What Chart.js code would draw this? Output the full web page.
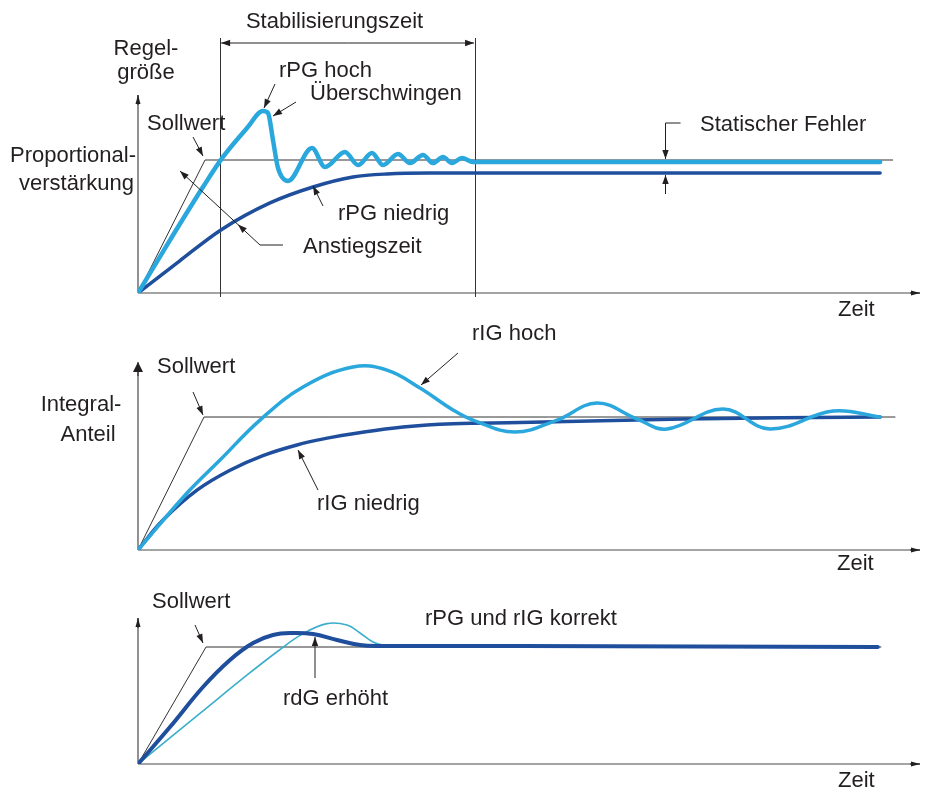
<!DOCTYPE html>
<html lang="de">
<head>
<meta charset="UTF-8" />
<title>Regelverhalten</title>
<script src="https://cdn.jsdelivr.net/npm/chart.js@4.4.0/dist/chart.umd.min.js"></script>
<style>
  body { margin: 0; background: #fff; }
  #wrap { position: relative; width: 925px; height: 794px; }
  canvas { position: absolute; left: 0; }
</style>
</head>
<body>
<div id="wrap">
  <canvas id="c1" width="925" height="320" style="top:0px"></canvas>
  <canvas id="c2" width="925" height="260" style="top:320px"></canvas>
  <canvas id="c3" width="925" height="214" style="top:580px"></canvas>
</div>
<script>
// Oben: Proportionalverstärkung (Sollwert = 1)
var p1Zeit   = [0, 4.09, 8.31, 10.87, 13.94, 15.98, 16.62, 17.26, 17.9, 19.18, 22.25, 23.91, 26.47, 28.13, 29.92, 31.33, 33.25, 34.78, 36.45, 37.72, 39.0, 40.15, 41.43, 42.84, 94.9];
var p1Hoch   = [0, 0.398, 0.797, 1.023, 1.24, 1.368, 1.353, 1.15, 0.94, 0.842, 1.09, 0.947, 1.06, 0.962, 1.053, 0.962, 1.045, 0.977, 1.038, 0.977, 1.023, 0.977, 1.015, 0.985, 0.985];
var p1ZeitN  = [0, 5.3, 10.6, 16.88, 22.38, 27.49, 31.84, 37.34, 94.9];
var p1Niedrig = [0, 0.24, 0.474, 0.677, 0.797, 0.872, 0.895, 0.902, 0.902];
var p1SollZeit = [0, 8.57, 96.5];
var stabZeit = [10.5, 43.1];
var fehlerZeit = 67.4;

// Mitte: Integral-Anteil
var p2ZeitH = [0, 6.27, 10.49, 15.6, 21.1, 27.49, 31.84, 36.06, 40.28, 42.84, 48.2, 53.58, 58.7, 63.8, 67.65, 74.8, 80.8, 88.9, 94.9];
var p2Hoch  = [0, 0.429, 0.677, 0.977, 1.226, 1.376, 1.353, 1.218, 1.053, 0.977, 0.887, 0.977, 1.105, 0.985, 0.91, 1.06, 0.91, 1.045, 1.0];
var p2ZeitN = [0, 3.2, 7.54, 11.76, 15.98, 20.33, 24.55, 27.49, 33.89, 40.28, 48.85, 69.7, 94.9];
var p2Niedrig = [0, 0.225, 0.45, 0.6, 0.71, 0.79, 0.845, 0.875, 0.925, 0.95, 0.958, 0.985, 1.0];
var p2SollZeit = [0, 8.44, 96.8];

// Unten: rPG und rIG korrekt
var p3ZeitD = [0, 4.09, 8.31, 11.76, 14.71, 17.26, 19.82, 22.38, 25.45, 28.39, 30.95, 48.85, 94.6];
var p3Erhoeht = [0, 0.316, 0.658, 0.889, 1.034, 1.103, 1.12, 1.111, 1.06, 1.017, 1.009, 1.009, 1.0];
var p3ZeitT = [0, 8, 14, 18, 21, 24.17, 26.73, 28.39, 30.05, 31.33, 33.5, 48.85, 94.6];
var p3Normal = [0, 0.436, 0.763, 0.97, 1.11, 1.2, 1.188, 1.12, 1.043, 1.017, 1.009, 1.009, 1.0];
var p3SollZeit = [0, 8.7, 95];

var hell = '#2aa7dc', dunkel = '#1f4f9c', tuerkis = '#3aaecb', tinte = '#231f20';

function punkte(xs, ys) {
  return xs.map(function (x, i) { return { x: x, y: ys[i] }; });
}

function schreibe(ctx, s, x, y, align) {
  ctx.save();
  ctx.font = '22px "Liberation Sans", Arial, sans-serif';
  ctx.fillStyle = tinte;
  ctx.textAlign = align || 'left';
  ctx.fillText(s, x, y);
  ctx.restore();
}

function pfeil(ctx, x1, y1, x2, y2, spitze, l, w) {
  l = l || 9; w = w || 3.2;
  ctx.save();
  ctx.strokeStyle = tinte; ctx.fillStyle = tinte; ctx.lineWidth = 1;
  ctx.beginPath(); ctx.moveTo(x1, y1); ctx.lineTo(x2, y2); ctx.stroke();
  if (spitze !== false) {
    var a = Math.atan2(y2 - y1, x2 - x1);
    ctx.beginPath();
    ctx.moveTo(x2, y2);
    ctx.lineTo(x2 - l * Math.cos(a) + w * Math.sin(a), y2 - l * Math.sin(a) - w * Math.cos(a));
    ctx.lineTo(x2 - l * Math.cos(a) - w * Math.sin(a), y2 - l * Math.sin(a) + w * Math.cos(a));
    ctx.closePath(); ctx.fill();
  }
  ctx.restore();
}

function achsen(chart, yTop, dreieck) {
  var ctx = chart.ctx, a = chart.chartArea;
  ctx.save();
  ctx.strokeStyle = '#4a4a4a'; ctx.lineWidth = 1.2;
  ctx.beginPath();
  ctx.moveTo(a.left, a.bottom); ctx.lineTo(a.right, a.bottom);
  ctx.moveTo(a.left, a.bottom); ctx.lineTo(a.left, yTop);
  ctx.stroke();
  ctx.restore();
  pfeil(ctx, a.right - 10, a.bottom, a.right, a.bottom, true, 9, 2.5);
  if (dreieck) pfeil(ctx, a.left, yTop + 12, a.left, yTop - 2, true, 10, 5);
  else pfeil(ctx, a.left, yTop + 10, a.left, yTop, true, 9, 2.5);
}

function linie(label, xs, ys, farbe, breite, modus) {
  return {
    label: label, data: punkte(xs, ys), borderColor: farbe, borderWidth: breite,
    pointRadius: 0, fill: false,
    tension: modus === 'glatt' ? 0.4 : 0,
    cubicInterpolationMode: modus === 'mono' ? 'monotone' : 'default',
    borderCapStyle: 'round', borderJoinStyle: 'round'
  };
}

function optionen(ymax, pad) {
  return {
    responsive: false, animation: false, events: [],
    layout: { padding: pad },
    plugins: { legend: { display: false }, tooltip: { enabled: false } },
    scales: {
      x: { type: 'linear', min: 0, max: 100, display: false },
      y: { type: 'linear', min: 0, max: ymax, display: false }
    }
  };
}

function dekoPlugin(id, vorher, nachher) {
  return { id: id, beforeDatasetsDraw: vorher, afterDraw: nachher };
}

// Panel 1
new Chart(document.getElementById('c1'), {
  type: 'line',
  data: {
    datasets: [
      linie('rPG hoch', p1Zeit, p1Hoch, hell, 4.5, 'mono'),
      linie('rPG niedrig', p1ZeitN, p1Niedrig, dunkel, 3.5, 'mono'),
      linie('Sollwert', p1SollZeit, [0, 1, 1], '#333', 1, 'gerade')
    ]
  },
  options: optionen(1.5, { left: 138, right: 5, top: 93.5, bottom: 27 }),
  plugins: [dekoPlugin('p1', function (chart) {
    achsen(chart, 95, false);
    var ctx = chart.ctx, xs = chart.scales.x;
    ctx.save(); ctx.strokeStyle = '#333'; ctx.lineWidth = 1;
    stabZeit.forEach(function (t) {
      var px = Math.round(xs.getPixelForValue(t)) + 0.5;
      ctx.beginPath(); ctx.moveTo(px, 38); ctx.lineTo(px, 297); ctx.stroke();
    });
    ctx.restore();
  }, function (chart) {
    var ctx = chart.ctx, xs = chart.scales.x, ys = chart.scales.y;
    var l = xs.getPixelForValue(stabZeit[0]), r = xs.getPixelForValue(stabZeit[1]);
    pfeil(ctx, (l + r) / 2, 43, l + 1, 43);
    pfeil(ctx, (l + r) / 2, 43, r - 1, 43);
    schreibe(ctx, 'Stabilisierungszeit', (l + r) / 2 - 13, 28, 'center');
    schreibe(ctx, 'Regel-', 146, 55, 'center');
    schreibe(ctx, 'größe', 146, 79, 'center');
    schreibe(ctx, 'rPG hoch', 279, 77);
    pfeil(ctx, 275, 84, 264, 108);
    schreibe(ctx, 'Überschwingen', 310, 100);
    pfeil(ctx, 296, 102, 273, 116);
    schreibe(ctx, 'Sollwert', 147, 130);
    pfeil(ctx, 193, 137, 203, 156);
    schreibe(ctx, 'Proportional-', 136, 162, 'right');
    schreibe(ctx, 'verstärkung', 134, 190, 'right');
    pfeil(ctx, 283, 245, 260, 245, false);
    pfeil(ctx, 260, 245, 238, 224.6);
    pfeil(ctx, 238, 224.6, 180, 171);
    schreibe(ctx, 'Anstiegszeit', 303, 253);
    schreibe(ctx, 'rPG niedrig', 338, 220);
    pfeil(ctx, 323, 206, 313, 186);
    var fx = Math.round(xs.getPixelForValue(fehlerZeit)) + 0.5;
    var ySoll = ys.getPixelForValue(1), yDunkel = ys.getPixelForValue(p1Niedrig[p1Niedrig.length - 1]);
    pfeil(ctx, fx + 15, 123, fx, 123, false);
    pfeil(ctx, fx, 123, fx, ySoll - 1);
    pfeil(ctx, fx, 194, fx, yDunkel + 2);
    schreibe(ctx, 'Statischer Fehler', 700, 131);
    schreibe(ctx, 'Zeit', 838, 316);
  })]
});

// Panel 2 (Seite y - 320)
new Chart(document.getElementById('c2'), {
  type: 'line',
  data: {
    datasets: [
      linie('rIG hoch', p2ZeitH, p2Hoch, hell, 3.5, 'glatt'),
      linie('rIG niedrig', p2ZeitN, p2Niedrig, dunkel, 3.5, 'glatt'),
      linie('Sollwert', p2SollZeit, [0, 1, 1], '#333', 1, 'gerade')
    ]
  },
  options: optionen(1.41, { left: 138, right: 5, top: 42.5, bottom: 30 }),
  plugins: [dekoPlugin('p2', function (chart) {
    achsen(chart, 44, true);
  }, function (chart) {
    var ctx = chart.ctx;
    schreibe(ctx, 'Sollwert', 157, 53);
    pfeil(ctx, 193, 72, 203, 95);
    schreibe(ctx, 'Integral-', 81, 91, 'center');
    schreibe(ctx, 'Anteil', 88, 121, 'center');
    schreibe(ctx, 'rIG hoch', 472, 20);
    pfeil(ctx, 458, 33, 421, 65);
    schreibe(ctx, 'rIG niedrig', 317, 190);
    pfeil(ctx, 318, 170, 298, 130);
    schreibe(ctx, 'Zeit', 837, 250);
  })]
});

// Panel 3 (Seite y - 580)
new Chart(document.getElementById('c3'), {
  type: 'line',
  data: {
    datasets: [
      linie('rdG erhöht', p3ZeitD, p3Erhoeht, dunkel, 4, 'glatt'),
      linie('rPG und rIG korrekt', p3ZeitT, p3Normal, tuerkis, 1.6, 'glatt'),
      linie('Sollwert', p3SollZeit, [0, 1, 1], '#333', 1, 'gerade')
    ]
  },
  options: optionen(1.25, { left: 138, right: 5, top: 37.75, bottom: 30 }),
  plugins: [dekoPlugin('p3', function (chart) {
    achsen(chart, 38, false);
  }, function (chart) {
    var ctx = chart.ctx;
    schreibe(ctx, 'Sollwert', 152, 28);
    pfeil(ctx, 195, 45, 203, 63);
    schreibe(ctx, 'rPG und rIG korrekt', 425, 45);
    schreibe(ctx, 'rdG erhöht', 283, 125);
    pfeil(ctx, 315, 98, 315, 57);
    schreibe(ctx, 'Zeit', 838, 207);
  })]
});
</script>
</body>
</html>
